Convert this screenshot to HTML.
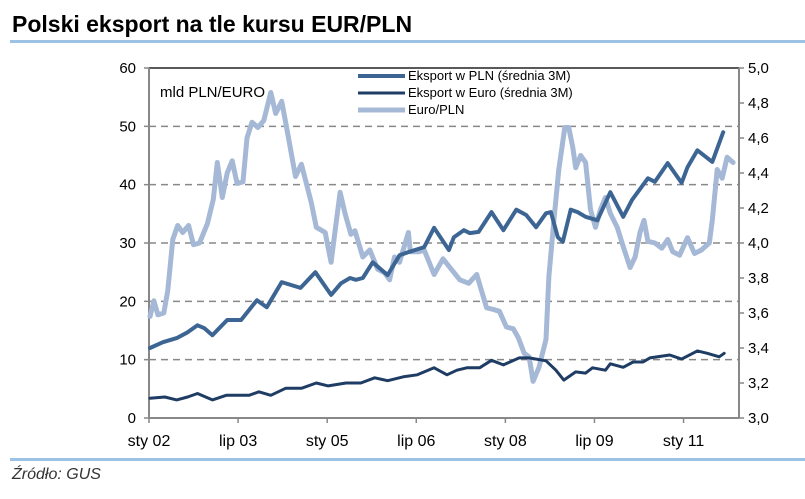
<!DOCTYPE html>
<html><head><meta charset="utf-8"><style>
body{margin:0;background:#fff;width:805px;height:494px;overflow:hidden;font-family:"Liberation Sans",sans-serif}
</style></head><body>
<svg width="805" height="494" xmlns="http://www.w3.org/2000/svg" font-family="Liberation Sans, sans-serif">
<text x="12" y="32" font-size="23" font-weight="bold" fill="#000">Polski eksport na tle kursu EUR/PLN</text>
<rect x="10" y="40" width="795" height="3" fill="#9cc3e5"/>
<rect x="10" y="458" width="795" height="3" fill="#9cc3e5"/>
<text x="12" y="479" font-size="16" font-style="italic" fill="#333">Źródło: GUS</text>
<g id="grid"></g>
<g id="axes"></g>
<g id="series"></g>
<text x="160" y="97" font-size="15" fill="#000">mld PLN/EURO</text>
<g font-size="13">
<g><line x1="358" y1="76" x2="405" y2="76" stroke="#3d6593" stroke-width="4"/><text x="408" y="80">Eksport w PLN (średnia 3M)</text></g>
<g><line x1="358" y1="93" x2="405" y2="93" stroke="#1f3d64" stroke-width="3"/><text x="408" y="97">Eksport w Euro (średnia 3M)</text></g>
<g><line x1="358" y1="110" x2="405" y2="110" stroke="#a5b8d6" stroke-width="5"/><text x="408" y="114">Euro/PLN</text></g>
</g>
</svg>
<script>
const xTickLabels=["sty 02","lip 03","sty 05","lip 06","sty 08","lip 09","sty 11"];
const leftTicks=[0,10,20,30,40,50,60];
const rightTicks=["3,0","3,2","3,4","3,6","3,8","4,0","4,2","4,4","4,6","4,8","5,0"];
const fxMonths=[0.2,1,1.8,3,3.8,4.8,5.8,6.8,8,9,10.2,11.8,13,13.8,14.8,15.8,16.8,17.8,19,19.8,20.8,22,23.2,24.6,25.6,26.8,27.8,29.6,30.8,31.8,32.8,33.8,35.6,36.8,37.6,38.6,39.6,40.8,41.6,43.2,44.6,46.2,47.6,48.6,49.6,50.6,52.4,52.8,54.6,55.6,57.6,59.4,60.8,62.8,64.6,66.2,68.2,69.6,70.8,72.2,73.6,74.6,75.8,76.8,77.6,78.8,80.2,80.8,81.8,82.8,84,84.8,85.6,86.2,87.2,88.2,89.2,90.2,91.2,92.2,93.2,94.6,95.8,97.2,98.2,99.2,100,100.8,102.2,103.6,104.8,105.8,107.2,108.8,110.2,111.6,113.2,113.8,114.8,115.8,116.8,118];
const fxValues=[3.58,3.67,3.59,3.60,3.73,4.02,4.10,4.06,4.10,3.99,4.00,4.11,4.25,4.46,4.26,4.40,4.47,4.34,4.35,4.60,4.69,4.66,4.70,4.86,4.74,4.81,4.66,4.38,4.45,4.34,4.23,4.09,4.06,3.89,4.07,4.29,4.17,4.05,4.07,3.92,3.96,3.85,3.83,3.79,3.92,3.89,4.06,3.95,3.95,3.96,3.82,3.91,3.86,3.79,3.77,3.82,3.63,3.62,3.61,3.52,3.51,3.46,3.37,3.35,3.21,3.29,3.45,3.81,4.13,4.42,4.66,4.66,4.55,4.43,4.50,4.46,4.19,4.09,4.19,4.26,4.17,4.09,3.98,3.86,3.92,4.06,4.13,4.01,4.00,3.97,4.02,3.95,3.93,4.03,3.94,3.96,4.00,4.13,4.42,4.37,4.49,4.46];
const plnMonths=[0.2,2.8,5.6,7.8,9.8,11.2,12.8,15.8,17.2,18.6,21.8,23.8,26.8,30.6,33.6,36.8,38.8,40.6,41.8,43.2,45.2,48.2,50.6,52.6,55.6,57.6,60.6,61.6,63.6,64.8,66.6,69.2,71.6,74.2,76.2,78.2,80.2,81.2,82.6,83.6,85.2,86.6,88.2,90.6,93.2,95.8,97.6,100.8,102.2,104.8,107.6,108.8,110.8,113.8,116];
const plnValues=[12.0,13.0,13.7,14.7,15.9,15.4,14.2,16.8,16.8,16.8,20.2,19.0,23.3,22.3,25.0,21.1,23.1,24.0,23.7,24.0,26.7,24.5,27.9,28.5,29.3,32.6,28.8,31.0,32.2,31.7,31.9,35.3,32.2,35.7,34.8,32.7,35.1,35.3,31.0,30.2,35.7,35.3,34.5,33.9,38.7,34.5,37.4,41.1,40.5,43.7,40.3,43.0,45.9,43.9,49.0];
const eurMonths=[0.2,3.2,5.6,7.8,9.8,12.8,15.6,18.2,20.2,22.2,24.6,27.6,30.8,33.8,36.2,39.8,42.8,45.6,48.2,51.6,54.2,57.6,60.2,62.2,64.2,66.8,69.2,71.6,74.8,76.8,80.2,82.2,83.8,86.2,88.2,89.6,92.2,93.2,95.8,97.8,99.8,101.2,105.2,107.6,110.8,112.8,115.2,116.2];
const eurValues=[3.4,3.6,3.1,3.6,4.2,3.1,3.9,3.9,3.9,4.5,3.9,5.1,5.1,6.0,5.5,6.0,6.0,6.9,6.4,7.1,7.4,8.6,7.4,8.2,8.6,8.6,9.9,9.1,10.3,10.3,9.8,8.2,6.5,7.9,7.7,8.6,8.2,9.3,8.7,9.6,9.6,10.3,10.8,10.1,11.5,11.1,10.5,11.1];

const NS="http://www.w3.org/2000/svg";
const X0=149,X1=739,Y0=418,Y1=68,MMAX=119.2;
const xs=m=>X0+(X1-X0)*m/MMAX;
const yl=v=>Y0-(Y0-Y1)*v/60;
const yr=v=>Y0-(Y0-Y1)*(v-3)/2;
function mk(tag,attrs,parent){const e=document.createElementNS(NS,tag);for(const k in attrs)e.setAttribute(k,attrs[k]);parent.appendChild(e);return e;}
const grid=document.getElementById('grid'),axes=document.getElementById('axes'),ser=document.getElementById('series');
leftTicks.forEach((v,i)=>{
  if(v>0&&v<60){const g=mk('line',{x1:X0,x2:X1,y1:yl(v),y2:yl(v),stroke:'#888','stroke-width':1.5,'stroke-dasharray':'7,5'},grid);
  
  }
  const t=mk('text',{x:136,y:yl(v)+5,'font-size':15,'text-anchor':'end'},axes);t.textContent=v;
  
  
  mk('line',{x1:X0-5,x2:X0,y1:yl(v),y2:yl(v),stroke:'#888','stroke-width':1.5},axes);
});
rightTicks.forEach((s,i)=>{
  const y=Y0-(Y0-Y1)*i/(rightTicks.length-1);
  mk('line',{x1:X1,x2:X1+5,y1:y,y2:y,stroke:'#888','stroke-width':1.5},axes);
  const t=mk('text',{x:748,y:y+5,'font-size':15},axes);t.textContent=s;
  
  
});
xTickLabels.forEach((s,i)=>{
  const x=xs(i*18);
  mk('line',{x1:x,x2:x,y1:Y0,y2:Y0+5,stroke:'#888','stroke-width':1.5},axes);
  const t=mk('text',{x:x,y:446,'font-size':16,'text-anchor':'middle'},axes);t.textContent=s;
  
  
});
const topBorder=mk('line',{x1:X0,x2:X1,y1:Y1,y2:Y1,stroke:'#222','stroke-width':1.5},axes);


const la=mk('line',{x1:X0,x2:X0,y1:Y1,y2:Y0,stroke:'#888','stroke-width':2},axes);


const ra=mk('line',{x1:X1,x2:X1,y1:Y1,y2:Y0,stroke:'#888','stroke-width':2},axes);


const ba=mk('line',{x1:X0,x2:X1,y1:Y0,y2:Y0,stroke:'#888','stroke-width':2},axes);


function line(ms,vs,yf,col,w){return mk('polyline',{points:ms.map((m,i)=>xs(m).toFixed(1)+','+yf(vs[i]).toFixed(1)).join(' '),fill:'none',stroke:col,'stroke-width':w,'stroke-linejoin':'round','stroke-linecap':'round'},ser);}
const p1=line(fxMonths,fxValues,yr,'#a5b8d6',5);


const p2=line(plnMonths,plnValues,yl,'#3d6593',4);


const p3=line(eurMonths,eurValues,yl,'#1f3d64',3);


</script>
</body></html>
